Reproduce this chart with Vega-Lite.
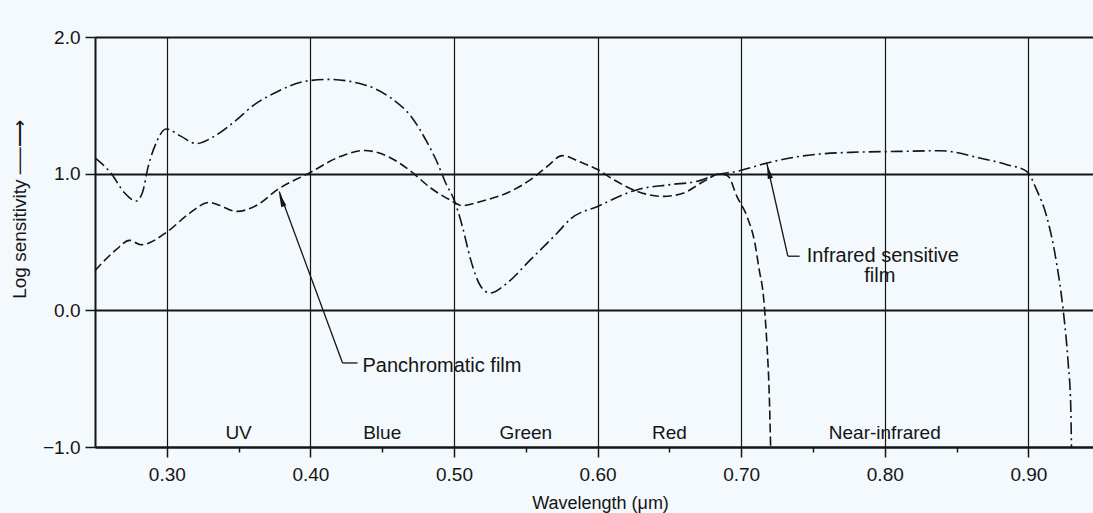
{
  "$schema": "https://vega.github.io/schema/vega-lite/v6.json",
  "width": 998,
  "height": 410,
  "autosize": "none",
  "padding": {"left": 95, "top": 37, "right": 0, "bottom": 66},
  "background": "#f3f9fc",
  "config": {"view": {"stroke": null}, "font": "Liberation Sans"},
  "datasets": {
    "curves": [
      {"film": "Infrared", "x": 0.25, "y": 1.115},
      {"film": "Infrared", "x": 0.261, "y": 1.005},
      {"film": "Infrared", "x": 0.2705, "y": 0.86},
      {"film": "Infrared", "x": 0.2787, "y": 0.8},
      {"film": "Infrared", "x": 0.283, "y": 0.86},
      {"film": "Infrared", "x": 0.287, "y": 1.05},
      {"film": "Infrared", "x": 0.2926, "y": 1.225},
      {"film": "Infrared", "x": 0.2995, "y": 1.327},
      {"film": "Infrared", "x": 0.31, "y": 1.273},
      {"film": "Infrared", "x": 0.3204, "y": 1.22},
      {"film": "Infrared", "x": 0.333, "y": 1.273},
      {"film": "Infrared", "x": 0.347, "y": 1.38},
      {"film": "Infrared", "x": 0.361, "y": 1.505},
      {"film": "Infrared", "x": 0.377, "y": 1.6},
      {"film": "Infrared", "x": 0.3957, "y": 1.675},
      {"film": "Infrared", "x": 0.412, "y": 1.69},
      {"film": "Infrared", "x": 0.4374, "y": 1.651},
      {"film": "Infrared", "x": 0.456, "y": 1.554},
      {"film": "Infrared", "x": 0.47, "y": 1.42},
      {"film": "Infrared", "x": 0.4815, "y": 1.225},
      {"film": "Infrared", "x": 0.4885, "y": 1.078},
      {"film": "Infrared", "x": 0.4942, "y": 0.932},
      {"film": "Infrared", "x": 0.5, "y": 0.81},
      {"film": "Infrared", "x": 0.5058, "y": 0.615},
      {"film": "Infrared", "x": 0.5116, "y": 0.371},
      {"film": "Infrared", "x": 0.5186, "y": 0.176},
      {"film": "Infrared", "x": 0.525, "y": 0.127},
      {"film": "Infrared", "x": 0.537, "y": 0.2},
      {"film": "Infrared", "x": 0.5533, "y": 0.371},
      {"film": "Infrared", "x": 0.5719, "y": 0.566},
      {"film": "Infrared", "x": 0.5813, "y": 0.67},
      {"film": "Infrared", "x": 0.6, "y": 0.76},
      {"film": "Infrared", "x": 0.6276, "y": 0.883},
      {"film": "Infrared", "x": 0.6507, "y": 0.92},
      {"film": "Infrared", "x": 0.6693, "y": 0.944},
      {"film": "Infrared", "x": 0.683, "y": 0.993},
      {"film": "Infrared", "x": 0.697, "y": 1.017},
      {"film": "Infrared", "x": 0.718, "y": 1.078},
      {"film": "Infrared", "x": 0.741, "y": 1.127},
      {"film": "Infrared", "x": 0.776, "y": 1.156},
      {"film": "Infrared", "x": 0.811, "y": 1.163},
      {"film": "Infrared", "x": 0.8385, "y": 1.168},
      {"film": "Infrared", "x": 0.866, "y": 1.115},
      {"film": "Infrared", "x": 0.885, "y": 1.066},
      {"film": "Infrared", "x": 0.8988, "y": 1.017},
      {"film": "Infrared", "x": 0.9057, "y": 0.883},
      {"film": "Infrared", "x": 0.9127, "y": 0.688},
      {"film": "Infrared", "x": 0.9196, "y": 0.347},
      {"film": "Infrared", "x": 0.9242, "y": 0.005},
      {"film": "Infrared", "x": 0.9277, "y": -0.385},
      {"film": "Infrared", "x": 0.9295, "y": -0.7},
      {"film": "Infrared", "x": 0.93, "y": -1.0},
      {"film": "Panchromatic", "x": 0.25, "y": 0.29},
      {"film": "Panchromatic", "x": 0.2647, "y": 0.444},
      {"film": "Panchromatic", "x": 0.274, "y": 0.512},
      {"film": "Panchromatic", "x": 0.282, "y": 0.48},
      {"film": "Panchromatic", "x": 0.3007, "y": 0.578},
      {"film": "Panchromatic", "x": 0.3146, "y": 0.7},
      {"film": "Panchromatic", "x": 0.3296, "y": 0.79},
      {"film": "Panchromatic", "x": 0.3355, "y": 0.773},
      {"film": "Panchromatic", "x": 0.349, "y": 0.724},
      {"film": "Panchromatic", "x": 0.3633, "y": 0.773},
      {"film": "Panchromatic", "x": 0.377, "y": 0.883},
      {"film": "Panchromatic", "x": 0.3992, "y": 1.005},
      {"film": "Panchromatic", "x": 0.4212, "y": 1.127},
      {"film": "Panchromatic", "x": 0.4374, "y": 1.17},
      {"film": "Panchromatic", "x": 0.4537, "y": 1.127},
      {"film": "Panchromatic", "x": 0.47, "y": 1.017},
      {"film": "Panchromatic", "x": 0.4838, "y": 0.895},
      {"film": "Panchromatic", "x": 0.4977, "y": 0.805},
      {"film": "Panchromatic", "x": 0.5058, "y": 0.766},
      {"film": "Panchromatic", "x": 0.5186, "y": 0.797},
      {"film": "Panchromatic", "x": 0.537, "y": 0.859},
      {"film": "Panchromatic", "x": 0.5533, "y": 0.956},
      {"film": "Panchromatic", "x": 0.565, "y": 1.053},
      {"film": "Panchromatic", "x": 0.5754, "y": 1.132},
      {"film": "Panchromatic", "x": 0.588, "y": 1.085},
      {"film": "Panchromatic", "x": 0.6, "y": 1.03},
      {"film": "Panchromatic", "x": 0.6113, "y": 0.956},
      {"film": "Panchromatic", "x": 0.6276, "y": 0.87},
      {"film": "Panchromatic", "x": 0.646, "y": 0.834},
      {"film": "Panchromatic", "x": 0.66, "y": 0.859},
      {"film": "Panchromatic", "x": 0.674, "y": 0.944},
      {"film": "Panchromatic", "x": 0.6855, "y": 1.0},
      {"film": "Panchromatic", "x": 0.691, "y": 0.98},
      {"film": "Panchromatic", "x": 0.697, "y": 0.834},
      {"film": "Panchromatic", "x": 0.704, "y": 0.688},
      {"film": "Panchromatic", "x": 0.7095, "y": 0.493},
      {"film": "Panchromatic", "x": 0.7125, "y": 0.3},
      {"film": "Panchromatic", "x": 0.7155, "y": 0.102},
      {"film": "Panchromatic", "x": 0.718, "y": -0.263},
      {"film": "Panchromatic", "x": 0.7195, "y": -0.6},
      {"film": "Panchromatic", "x": 0.7205, "y": -1.0}
    ],
    "leaders": [
      {"x": 0.3783, "y": 0.87, "x2": 0.4224, "y2": -0.385},
      {"x": 0.4224, "y": -0.385, "x2": 0.4328, "y2": -0.385},
      {"x": 0.7178, "y": 1.078, "x2": 0.7325, "y2": 0.396},
      {"x": 0.7325, "y": 0.396, "x2": 0.7407, "y2": 0.396}
    ],
    "headP": [{"x": 0.3798, "y": 0.81}],
    "headI": [{"x": 0.7192, "y": 1.015}],
    "notes": [
      {"x": 0.4363, "y": -0.41, "label": "Panchromatic film"},
      {"x": 0.7456, "y": 0.4, "label": "Infrared sensitive"},
      {"x": 0.7857, "y": 0.249, "label": "film"}
    ],
    "regions": [
      {"x": 0.35, "y": -0.9, "label": "UV"},
      {"x": 0.45, "y": -0.9, "label": "Blue"},
      {"x": 0.55, "y": -0.9, "label": "Green"},
      {"x": 0.65, "y": -0.9, "label": "Red"},
      {"x": 0.8, "y": -0.9, "label": "Near-infrared"}
    ]
  },
  "layer": [
    {
      "data": {"name": "curves"},
      "mark": {"type": "line", "interpolate": "monotone", "strokeWidth": 1.6, "color": "#151515"},
      "encoding": {
        "x": {
          "field": "x", "type": "quantitative",
          "scale": {"domain": [0.25, 0.945], "nice": false, "zero": false},
          "axis": {
            "values": [0.3, 0.35, 0.4, 0.45, 0.5, 0.55, 0.6, 0.65, 0.7, 0.75, 0.8, 0.85, 0.9],
            "labelExpr": "round(datum.value*100) % 10 == 5 ? '' : format(datum.value, '.2f')",
            "tickSize": {"condition": {"test": "round(datum.value*100) % 10 == 5", "value": 5}, "value": 10},
            "gridOpacity": {"condition": {"test": "round(datum.value*100) % 10 == 5", "value": 0}, "value": 1},
            "grid": true, "gridColor": "#151515", "gridWidth": 1.2,
            "domainColor": "#151515", "domainWidth": 2,
            "tickColor": "#151515", "tickWidth": 1.5,
            "labelFontSize": 19, "labelColor": "#151515", "labelPadding": 8,
            "title": "Wavelength (μm)", "titleFontSize": 18, "titleFontWeight": "normal",
            "titleColor": "#151515", "titleX": 505, "titleY": 56, "titleBaseline": "middle"
          }
        },
        "y": {
          "field": "y", "type": "quantitative",
          "scale": {"domain": [-1, 2], "nice": false, "zero": false},
          "axis": {
            "values": [-1, 0, 1, 2], "format": ".1f",
            "grid": true, "gridColor": "#151515", "gridWidth": 2,
            "domainColor": "#151515", "domainWidth": 2,
            "tickColor": "#151515", "tickWidth": 1.5, "tickSize": 10,
            "labelFontSize": 19, "labelColor": "#151515", "labelPadding": 5,
            "title": "Log sensitivity ──⟶", "titleFontSize": 19, "titleFontWeight": "normal",
            "titleColor": "#151515", "titleAngle": -90, "titleX": -76, "titleY": 172,
            "titleAlign": "center", "titleBaseline": "middle"
          }
        },
        "strokeDash": {
          "field": "film", "type": "nominal",
          "scale": {"domain": ["Infrared", "Panchromatic"], "range": [[12, 4, 2, 4], [9, 4]]},
          "legend": null
        }
      }
    },
    {
      "data": {"name": "leaders"},
      "mark": {"type": "rule", "strokeWidth": 1.3, "color": "#151515"},
      "encoding": {
        "x": {"field": "x", "type": "quantitative"},
        "y": {"field": "y", "type": "quantitative"},
        "x2": {"field": "x2"},
        "y2": {"field": "y2"}
      }
    },
    {
      "data": {"name": "headP"},
      "mark": {"type": "point", "shape": "M0,-1L0.38,1L-0.38,1Z", "filled": true, "size": 200, "angle": -20, "color": "#151515", "opacity": 1},
      "encoding": {
        "x": {"field": "x", "type": "quantitative"},
        "y": {"field": "y", "type": "quantitative"}
      }
    },
    {
      "data": {"name": "headI"},
      "mark": {"type": "point", "shape": "M0,-1L0.38,1L-0.38,1Z", "filled": true, "size": 200, "angle": -13, "color": "#151515", "opacity": 1},
      "encoding": {
        "x": {"field": "x", "type": "quantitative"},
        "y": {"field": "y", "type": "quantitative"}
      }
    },
    {
      "data": {"name": "notes"},
      "mark": {"type": "text", "align": "left", "baseline": "middle", "fontSize": 20, "color": "#151515"},
      "encoding": {
        "x": {"field": "x", "type": "quantitative"},
        "y": {"field": "y", "type": "quantitative"},
        "text": {"field": "label"}
      }
    },
    {
      "data": {"name": "regions"},
      "mark": {"type": "text", "align": "center", "baseline": "middle", "fontSize": 19, "color": "#151515"},
      "encoding": {
        "x": {"field": "x", "type": "quantitative"},
        "y": {"field": "y", "type": "quantitative"},
        "text": {"field": "label"}
      }
    }
  ]
}
